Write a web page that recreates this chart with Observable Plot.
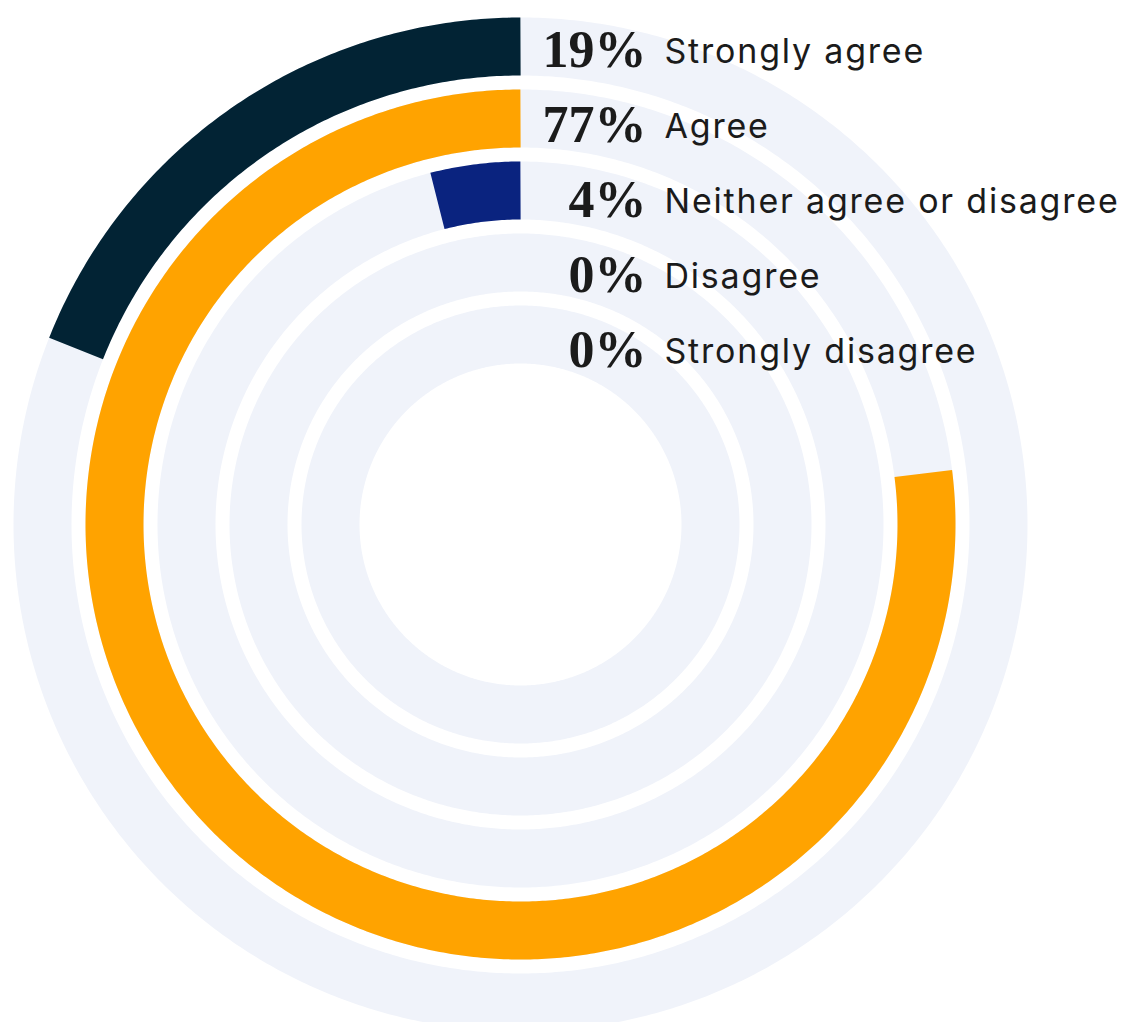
<!DOCTYPE html>
<html>
<head>
<meta charset="utf-8">
<script src="https://cdn.jsdelivr.net/npm/d3@7"></script>
<script src="https://cdn.jsdelivr.net/npm/@observablehq/plot@0.6"></script>
<style>
  html, body { margin: 0; padding: 0; background: #ffffff; }
  #chart svg { display: block; }
</style>
</head>
<body>
<div id="chart"></div>
<script>
// ---- data ----
const categories = ["Strongly agree", "Agree", "Neither agree or disagree", "Disagree", "Strongly disagree"];
const shares = [19, 77, 4, 0, 0];
const colors = ["#022334", "#ffa300", "#0a237f", "#0a237f", "#0a237f"];
const trackColor = "#f0f3fa";

// ---- layout constants (pixel units; scales are 1:1) ----
const W = 1126, H = 1022;
const cx = 520, cy = 524;
const outerMid = 478, ringStep = 72, ringWidth = 58;
const labelTop = 476, labelStep = 75;

function arcPoints(cat, i, fraction) {
  const r = outerMid - ringStep * i;
  const end = fraction * 360;
  const pts = [];
  if (end <= 0) return pts;
  const n = Math.max(2, Math.ceil(end / 0.5));
  for (let k = 0; k <= n; k++) {
    const a = (end * k / n) * Math.PI / 180;
    pts.push({category: cat, x: -r * Math.sin(a), y: r * Math.cos(a)});
  }
  return pts;
}

const tracks = categories.flatMap((c, i) => arcPoints(c, i, 1.004));
const bars = categories.flatMap((c, i) => arcPoints(c, i, shares[i] / 100));
const labels = categories.map((c, i) => ({category: c, share: shares[i], y: labelTop - labelStep * i}));

const chart = Plot.plot({
  width: W,
  height: H,
  margin: 0,
  x: {domain: [-cx, W - cx], axis: null},
  y: {domain: [cy - H, cy], axis: null},
  color: {domain: categories, range: colors},
  marks: [
    Plot.line(tracks, {x: "x", y: "y", z: "category", stroke: trackColor, strokeWidth: ringWidth, strokeLinecap: "butt", curve: "linear"}),
    Plot.line(bars, {x: "x", y: "y", z: "category", stroke: "category", strokeWidth: ringWidth, strokeLinecap: "butt", curve: "linear"}),
    Plot.text(labels, {x: () => 126, y: "y", text: d => d.share + "%", textAnchor: "end", fontFamily: "Liberation Serif", fontWeight: "bold", fontSize: 52, fill: "#1b1b1b", dy: 2}),
    Plot.text(labels, {x: () => 144, y: "y", text: "category", textAnchor: "start", fontFamily: "Inter", fontSize: 34, fill: "#1b1b1b", dy: 4})
  ]
});
d3.select(chart).selectAll('g[aria-label="text"]').filter((d, i) => i === 1).style("letter-spacing", "1.8px");
document.getElementById("chart").appendChild(chart);
</script>
</body>
</html>
